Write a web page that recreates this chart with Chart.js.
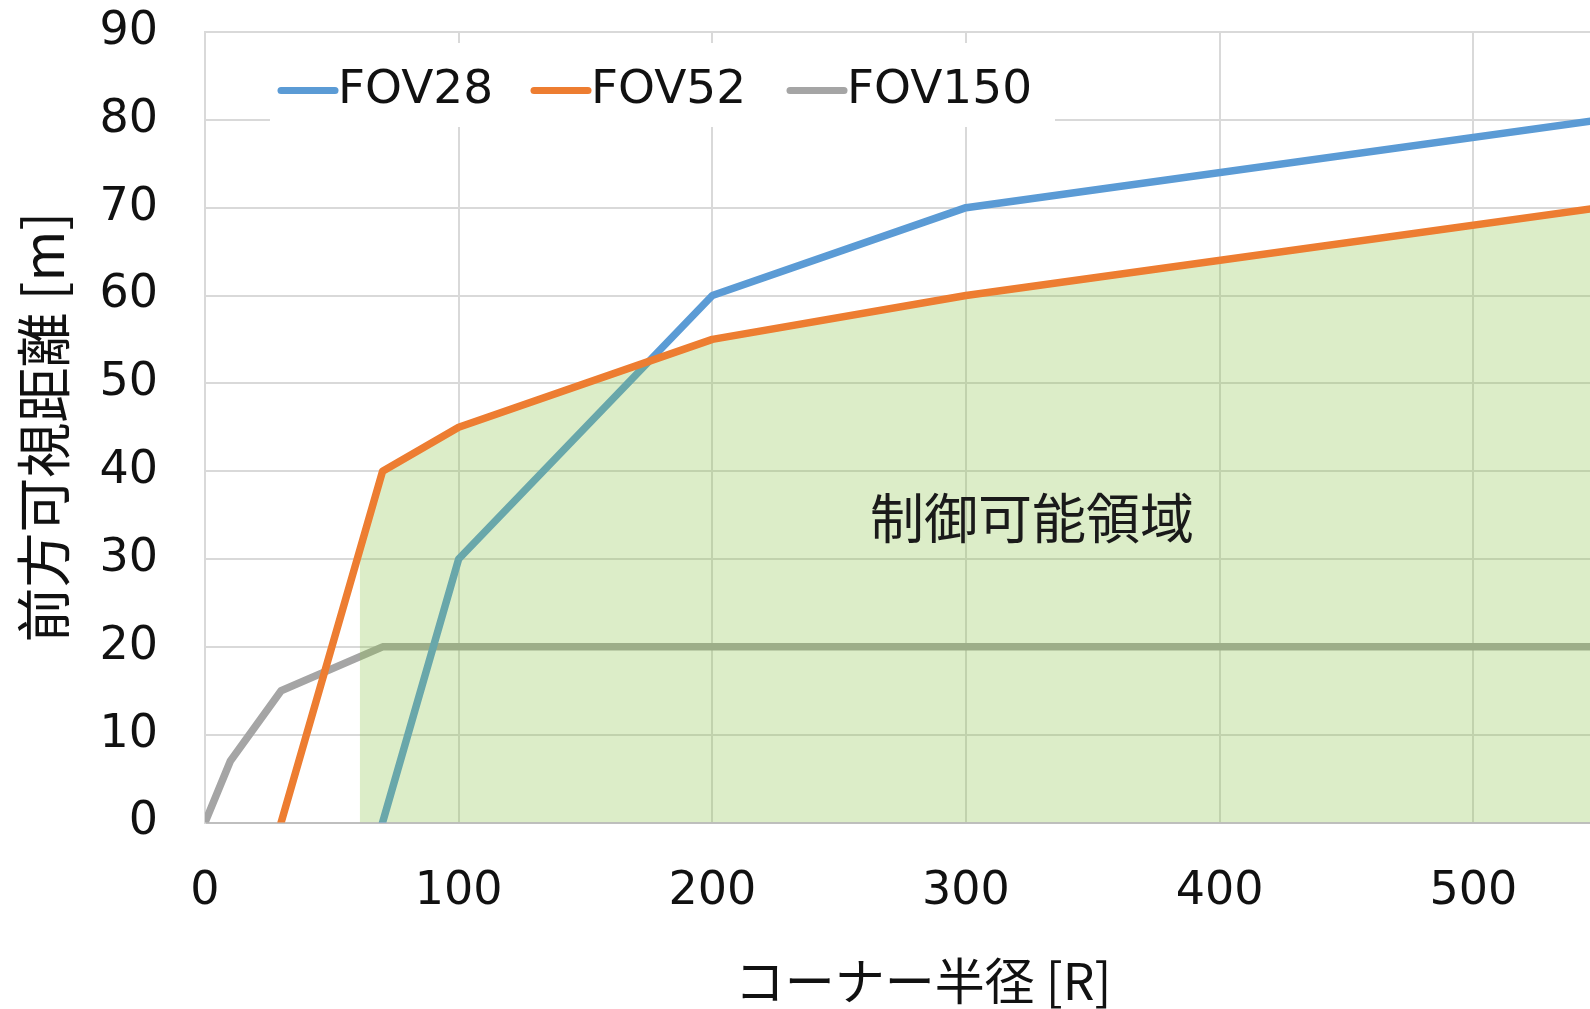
<!DOCTYPE html>
<html>
<head>
<meta charset="utf-8">
<script src="https://cdn.jsdelivr.net/npm/chart.js@4"></script>
<style>
  html, body { margin: 0; padding: 0; background: #fff; }
  #wrap { width: 1590px; height: 1009px; }
</style>
</head>
<body>
<div id="wrap"><canvas id="fovChart"></canvas></div>
<script>
// Datos del gráfico
var xTicksMax = 546;            // el eje X queda cortado a la derecha
var yTicksMax = 90;

var fov28X = [70, 100, 200, 300, 550];
var fov28Y = [0, 30, 60, 70, 80];

var fov52X = [30, 70, 100, 200, 300, 550];
var fov52Y = [0, 40, 45, 55, 60, 70];

var fov150X = [0, 10, 30, 70, 550];
var fov150Y = [0, 7, 15, 20, 20];

// Zona "制御可能領域" (debajo de FOV52, a partir de R≈61)
var areaX = [61, 70, 100, 200, 300, 550];
var areaY = [31, 40, 45, 55, 60, 70];

var areaLabel = '制御可能領域';
var areaLabelPos = { x: 326, y: 34.6 };

var xTitle = 'コーナー半径 [R]';
var yTitle = '前方可視距離 [m]';

function toPoints(xs, ys) {
    return xs.map(function (x, i) { return { x: x, y: ys[i] }; });
}

var tickFont = { family: '"DejaVu Sans", Verdana, sans-serif', size: 46 };
var titleFont = { family: '"Noto Sans CJK JP", sans-serif', size: 55 };

// Leyenda dibujada dentro del área del gráfico, con fondo blanco
var insideLegend = {
    id: 'insideLegend',
    afterDraw: function (chart) {
        var ctx = chart.ctx;
        ctx.save();
        ctx.fillStyle = '#ffffff';
        ctx.fillRect(270, 43, 785, 84);

        var items = [
            { ds: chart.data.datasets[0], x: 281 },
            { ds: chart.data.datasets[1], x: 534 },
            { ds: chart.data.datasets[2], x: 790 }
        ];
        items.forEach(function (it) {
            ctx.strokeStyle = it.ds.borderColor;
            ctx.lineWidth = 7;
            ctx.lineCap = 'round';
            ctx.beginPath();
            ctx.moveTo(it.x, 90.5);
            ctx.lineTo(it.x + 54, 90.5);
            ctx.stroke();

            ctx.fillStyle = '#111111';
            ctx.font = '47px "DejaVu Sans", Verdana, sans-serif';
            ctx.textBaseline = 'middle';
            ctx.textAlign = 'left';
            ctx.fillText(it.ds.label, it.x + 57, 91);
        });
        ctx.restore();
    }
};

// Texto de la zona controlable y título del eje X (desplazado como en el original)
var areaText = {
    id: 'areaText',
    afterDatasetsDraw: function (chart) {
        var ctx = chart.ctx;
        var px = chart.scales.x.getPixelForValue(areaLabelPos.x);
        var py = chart.scales.y.getPixelForValue(areaLabelPos.y);
        ctx.save();
        ctx.fillStyle = '#1a1a1a';
        ctx.font = '54px "Noto Sans CJK JP", sans-serif';
        ctx.textAlign = 'center';
        ctx.textBaseline = 'middle';
        ctx.fillText(areaLabel, px, py);

        ctx.fillStyle = '#111111';
        ctx.font = '50px "Noto Sans CJK JP", sans-serif';
        ctx.fillText(xTitle, 923, 981);
        ctx.restore();
    }
};

var lineDefaults = {
    borderWidth: 7.5,
    pointRadius: 0,
    borderCapStyle: 'round',
    borderJoinStyle: 'round',
    fill: false,
    tension: 0
};

var chart = new Chart(document.getElementById('fovChart'), {
    type: 'line',
    data: {
        datasets: [
            Object.assign({}, lineDefaults, {
                label: 'FOV28',
                data: toPoints(fov28X, fov28Y),
                borderColor: '#5B9BD5',
                order: 3
            }),
            Object.assign({}, lineDefaults, {
                label: 'FOV52',
                data: toPoints(fov52X, fov52Y),
                borderColor: '#ED7D31',
                order: 1
            }),
            Object.assign({}, lineDefaults, {
                label: 'FOV150',
                data: toPoints(fov150X, fov150Y),
                borderColor: '#A5A5A5',
                order: 4
            }),
            {
                label: '',
                data: toPoints(areaX, areaY),
                borderWidth: 0,
                borderColor: 'rgba(0,0,0,0)',
                backgroundColor: 'rgba(138, 195, 72, 0.3)',
                pointRadius: 0,
                fill: 'origin',
                order: 2
            }
        ]
    },
    options: {
        responsive: true,
        maintainAspectRatio: false,
        animation: false,
        layout: { padding: { top: 32, right: 0, left: 0, bottom: 0 } },
        plugins: {
            legend: { display: false },
            tooltip: { enabled: false }
        },
        scales: {
            x: {
                type: 'linear',
                min: 0,
                max: xTicksMax,
                ticks: {
                    stepSize: 100,
                    includeBounds: false,
                    padding: 42,
                    color: '#111111',
                    font: tickFont,
                    maxRotation: 0
                },
                grid: { color: '#d9d9d9', lineWidth: 2, drawTicks: false },
                border: { color: '#bfbfbf', width: 2 },
                title: { display: false, text: xTitle },
                afterFit: function (scale) {
                    scale.height = 186.5;
                    scale.paddingLeft = 0;
                    scale.paddingRight = 0;
                }
            },
            y: {
                min: 0,
                max: yTicksMax,
                ticks: {
                    stepSize: 10,
                    padding: 47,
                    color: '#111111',
                    font: tickFont
                },
                grid: { color: '#d9d9d9', lineWidth: 2, drawTicks: false },
                border: { color: '#d9d9d9', width: 2 },
                title: {
                    display: true,
                    text: yTitle,
                    color: '#111111',
                    font: titleFont,
                    padding: { top: 10, bottom: 0 }
                },
                afterFit: function (scale) {
                    scale.width = 205;
                    scale.paddingTop = 0;
                    scale.paddingBottom = 0;
                }
            }
        }
    },
    plugins: [areaText, insideLegend]
});
</script>
</body>
</html>
